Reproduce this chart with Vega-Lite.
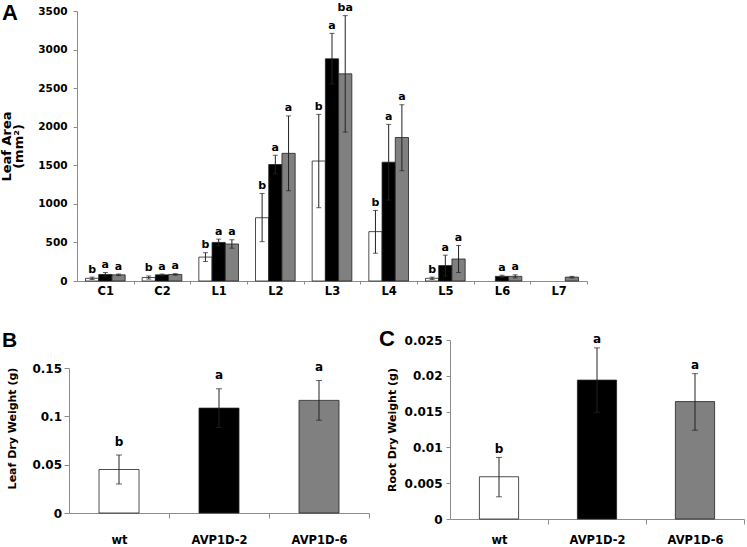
{
  "$schema": "https://vega.github.io/schema/vega-lite/v6.json",
  "padding": {"left": 0, "top": 2, "right": 0, "bottom": 0},
  "background": "white",
  "config": {
    "view": {"stroke": null},
    "axis": {"domainColor": "#8c8c8c", "tickColor": "#8c8c8c", "labelFont": "DejaVu Sans", "labelFontWeight": "bold", "labelColor": "#000", "titleFont": "DejaVu Sans", "titleFontWeight": "bold", "titleColor": "#000", "grid": false, "labelOverlap": false},
    "title": {"font": "Liberation Sans", "fontWeight": "bold", "color": "#000"}
  },
  "datasets": {
    "leaf": [
      {"cat": "C1", "geno": "wt", "mean": 35, "lo": 20, "hi": 50, "lab": "b"},
      {"cat": "C1", "geno": "AVP1D-2", "mean": 85, "lo": 60, "hi": 110, "lab": "a"},
      {"cat": "C1", "geno": "AVP1D-6", "mean": 80, "lo": 70, "hi": 90, "lab": "a"},
      {"cat": "C2", "geno": "wt", "mean": 45, "lo": 25, "hi": 65, "lab": "b"},
      {"cat": "C2", "geno": "AVP1D-2", "mean": 80, "lo": 70, "hi": 90, "lab": "a"},
      {"cat": "C2", "geno": "AVP1D-6", "mean": 85, "lo": 75, "hi": 95, "lab": "a"},
      {"cat": "L1", "geno": "wt", "mean": 310, "lo": 253, "hi": 367, "lab": "b"},
      {"cat": "L1", "geno": "AVP1D-2", "mean": 500, "lo": 457, "hi": 543, "lab": "a"},
      {"cat": "L1", "geno": "AVP1D-6", "mean": 480, "lo": 425, "hi": 535, "lab": "a"},
      {"cat": "L2", "geno": "wt", "mean": 820, "lo": 510, "hi": 1135, "lab": "b"},
      {"cat": "L2", "geno": "AVP1D-2", "mean": 1510, "lo": 1390, "hi": 1630, "lab": "a"},
      {"cat": "L2", "geno": "AVP1D-6", "mean": 1655, "lo": 1170, "hi": 2140, "lab": "a"},
      {"cat": "L3", "geno": "wt", "mean": 1555, "lo": 950, "hi": 2160, "lab": "b"},
      {"cat": "L3", "geno": "AVP1D-2", "mean": 2880, "lo": 2555, "hi": 3210, "lab": "a"},
      {"cat": "L3", "geno": "AVP1D-6", "mean": 2685, "lo": 1930, "hi": 3440, "lab": "ba"},
      {"cat": "L4", "geno": "wt", "mean": 640, "lo": 360, "hi": 915, "lab": "b"},
      {"cat": "L4", "geno": "AVP1D-2", "mean": 1540, "lo": 1050, "hi": 2030, "lab": "a"},
      {"cat": "L4", "geno": "AVP1D-6", "mean": 1860, "lo": 1430, "hi": 2285, "lab": "a"},
      {"cat": "L5", "geno": "wt", "mean": 35, "lo": 20, "hi": 50, "lab": "b"},
      {"cat": "L5", "geno": "AVP1D-2", "mean": 200, "lo": 65, "hi": 335, "lab": "a"},
      {"cat": "L5", "geno": "AVP1D-6", "mean": 285, "lo": 110, "hi": 460, "lab": "a"},
      {"cat": "L6", "geno": "AVP1D-2", "mean": 60, "lo": 45, "hi": 75, "lab": "a"},
      {"cat": "L6", "geno": "AVP1D-6", "mean": 60, "lo": 40, "hi": 80, "lab": "a"},
      {"cat": "L7", "geno": "AVP1D-6", "mean": 50, "lo": 40, "hi": 60, "lab": ""}
    ],
    "leafdw": [
      {"geno": "wt", "mean": 0.045, "lo": 0.030, "hi": 0.060, "lab": "b"},
      {"geno": "AVP1D-2", "mean": 0.1085, "lo": 0.0885, "hi": 0.1285, "lab": "a"},
      {"geno": "AVP1D-6", "mean": 0.1165, "lo": 0.096, "hi": 0.137, "lab": "a"}
    ],
    "rootdw": [
      {"geno": "wt", "mean": 0.0059, "lo": 0.0031, "hi": 0.0086, "lab": "b"},
      {"geno": "AVP1D-2", "mean": 0.0194, "lo": 0.0149, "hi": 0.0239, "lab": "a"},
      {"geno": "AVP1D-6", "mean": 0.0164, "lo": 0.0124, "hi": 0.0203, "lab": "a"}
    ]
  },
  "bounds": "flush",
  "spacing": 59,
  "vconcat": [
    {
      "width": 518,
      "height": 270,
      "title": {"text": "A", "anchor": "start", "frame": "group", "fontSize": 22, "offset": 0, "dx": -67, "dy": 40, "baseline": "alphabetic"},
      "data": {"name": "leaf"},
      "encoding": {
        "x": {"field": "cat", "type": "nominal", "sort": ["C1", "C2", "L1", "L2", "L3", "L4", "L5", "L6", "L7"],
          "scale": {"range": [8, 518], "paddingInner": 0.3, "paddingOuter": 0.15},
          "axis": {"title": null, "labelAngle": 0, "labelFontSize": 11.5, "tickSize": 3, "labelPadding": 1, "bandPosition": 1, "tickOffset": 8.5, "labelOffset": -8.5}},
        "xOffset": {"field": "geno", "type": "nominal", "scale": {"domain": ["wt", "AVP1D-2", "AVP1D-6"], "paddingInner": 0, "paddingOuter": 0}}
      },
      "layer": [
        {
          "mark": {"type": "bar", "stroke": "#222", "strokeWidth": 0.8},
          "encoding": {
            "y": {"field": "mean", "type": "quantitative", "scale": {"domain": [0, 3500], "nice": false},
              "axis": {"values": [0, 500, 1000, 1500, 2000, 2500, 3000, 3500], "format": "d", "offset": -8, "labelFontSize": 10.5, "tickSize": 4, "labelPadding": 6, "title": ["Leaf Area", "(mm²)"], "titleFontSize": 13, "titleLineHeight": 12, "titlePadding": 12}},
            "color": {"field": "geno", "type": "nominal", "scale": {"domain": ["wt", "AVP1D-2", "AVP1D-6"], "range": ["#ffffff", "#000000", "#808080"]}, "legend": null}
          }
        },
        {
          "mark": {"type": "rule", "color": "#222", "strokeWidth": 1},
          "encoding": {"y": {"field": "lo", "type": "quantitative",
              "axis": {"values": [0, 500, 1000, 1500, 2000, 2500, 3000, 3500], "format": "d", "offset": -8, "labelFontSize": 10.5, "tickSize": 4, "labelPadding": 6, "title": ["Leaf Area", "(mm²)"], "titleFontSize": 13, "titleLineHeight": 12, "titlePadding": 12}}, "y2": {"field": "hi"}}
        },
        {
          "mark": {"type": "tick", "orient": "horizontal", "size": 5, "thickness": 1, "color": "#222"},
          "encoding": {"y": {"field": "hi", "type": "quantitative",
              "axis": {"values": [0, 500, 1000, 1500, 2000, 2500, 3000, 3500], "format": "d", "offset": -8, "labelFontSize": 10.5, "tickSize": 4, "labelPadding": 6, "title": ["Leaf Area", "(mm²)"], "titleFontSize": 13, "titleLineHeight": 12, "titlePadding": 12}}}
        },
        {
          "mark": {"type": "tick", "orient": "horizontal", "size": 5, "thickness": 1, "color": "#222"},
          "encoding": {"y": {"field": "lo", "type": "quantitative",
              "axis": {"values": [0, 500, 1000, 1500, 2000, 2500, 3000, 3500], "format": "d", "offset": -8, "labelFontSize": 10.5, "tickSize": 4, "labelPadding": 6, "title": ["Leaf Area", "(mm²)"], "titleFontSize": 13, "titleLineHeight": 12, "titlePadding": 12}}}
        },
        {
          "mark": {"type": "text", "font": "DejaVu Sans", "fontWeight": "bold", "fontSize": 11, "baseline": "alphabetic", "dy": -4.5, "color": "#000"},
          "encoding": {"y": {"field": "hi", "type": "quantitative",
              "axis": {"values": [0, 500, 1000, 1500, 2000, 2500, 3000, 3500], "format": "d", "offset": -8, "labelFontSize": 10.5, "tickSize": 4, "labelPadding": 6, "title": ["Leaf Area", "(mm²)"], "titleFontSize": 13, "titleLineHeight": 12, "titlePadding": 12}}, "text": {"field": "lab"}}
        }
      ]
    },
    {
      "bounds": "flush",
      "spacing": 81,
      "hconcat": [
        {
          "width": 300,
          "height": 179,
          "title": {"text": "B", "anchor": "start", "frame": "group", "fontSize": 21, "offset": 0, "dx": -67, "dy": 28, "baseline": "alphabetic"},
          "data": {"name": "leafdw"},
          "encoding": {
            "x": {"field": "geno", "type": "nominal", "sort": ["wt", "AVP1D-2", "AVP1D-6"],
              "scale": {"paddingInner": 0.6, "paddingOuter": 0.3},
              "axis": {"title": null, "labelAngle": 0, "labelFontSize": 11.5, "tickSize": 5, "labelPadding": 16, "offset": -6, "bandPosition": 1, "tickOffset": 30, "labelOffset": -30}}
          },
          "layer": [
            {
              "mark": {"type": "bar", "stroke": "#222", "strokeWidth": 0.8},
              "encoding": {
                "y": {"field": "mean", "type": "quantitative", "scale": {"domain": [0, 0.15], "nice": false, "range": [173, 28]},
                  "axis": {"values": [0, 0.05, 0.1, 0.15], "format": ".3~g", "labelFontSize": 12, "tickSize": 5, "labelPadding": 2.5, "title": "Leaf Dry Weight  (g)", "titleFontSize": 11, "titlePadding": 14, "titleY": 88}},
                "color": {"field": "geno", "type": "nominal", "scale": {"domain": ["wt", "AVP1D-2", "AVP1D-6"], "range": ["#ffffff", "#000000", "#808080"]}, "legend": null}
              }
            },
            {
              "mark": {"type": "rule", "color": "#222", "strokeWidth": 1},
              "encoding": {"y": {"field": "lo", "type": "quantitative",
                  "axis": {"values": [0, 0.05, 0.1, 0.15], "format": ".3~g", "labelFontSize": 12, "tickSize": 5, "labelPadding": 2.5, "title": "Leaf Dry Weight  (g)", "titleFontSize": 11, "titlePadding": 14, "titleY": 88}}, "y2": {"field": "hi"}}
            },
            {
              "mark": {"type": "tick", "orient": "horizontal", "size": 6, "thickness": 1, "color": "#222"},
              "encoding": {"y": {"field": "hi", "type": "quantitative",
                  "axis": {"values": [0, 0.05, 0.1, 0.15], "format": ".3~g", "labelFontSize": 12, "tickSize": 5, "labelPadding": 2.5, "title": "Leaf Dry Weight  (g)", "titleFontSize": 11, "titlePadding": 14, "titleY": 88}}}
            },
            {
              "mark": {"type": "tick", "orient": "horizontal", "size": 6, "thickness": 1, "color": "#222"},
              "encoding": {"y": {"field": "lo", "type": "quantitative",
                  "axis": {"values": [0, 0.05, 0.1, 0.15], "format": ".3~g", "labelFontSize": 12, "tickSize": 5, "labelPadding": 2.5, "title": "Leaf Dry Weight  (g)", "titleFontSize": 11, "titlePadding": 14, "titleY": 88}}}
            },
            {
              "mark": {"type": "text", "font": "DejaVu Sans", "fontWeight": "bold", "fontSize": 12, "baseline": "alphabetic", "dy": -9.5, "color": "#000"},
              "encoding": {"y": {"field": "hi", "type": "quantitative",
                  "axis": {"values": [0, 0.05, 0.1, 0.15], "format": ".3~g", "labelFontSize": 12, "tickSize": 5, "labelPadding": 2.5, "title": "Leaf Dry Weight  (g)", "titleFontSize": 11, "titlePadding": 14, "titleY": 88}}, "text": {"field": "lab"}}
            }
          ]
        },
        {
          "width": 294,
          "height": 179,
          "title": {"text": "C", "anchor": "start", "frame": "group", "fontSize": 22, "offset": 0, "dx": -71, "dy": 35, "baseline": "alphabetic"},
          "data": {"name": "rootdw"},
          "encoding": {
            "x": {"field": "geno", "type": "nominal", "sort": ["wt", "AVP1D-2", "AVP1D-6"],
              "scale": {"paddingInner": 0.6, "paddingOuter": 0.3},
              "axis": {"title": null, "labelAngle": 0, "labelFontSize": 11.5, "tickSize": 5, "labelPadding": 10, "bandPosition": 1, "tickOffset": 29.4, "labelOffset": -29.4}}
          },
          "layer": [
            {
              "mark": {"type": "bar", "stroke": "#222", "strokeWidth": 0.8},
              "encoding": {
                "y": {"field": "mean", "type": "quantitative", "scale": {"domain": [0, 0.025], "nice": false},
                  "axis": {"values": [0, 0.005, 0.01, 0.015, 0.02, 0.025], "format": ".3~g", "labelFontSize": 12, "tickSize": 4, "labelPadding": 4, "title": "Root Dry Weight  (g)", "titleFontSize": 11, "titlePadding": 6.5}},
                "color": {"field": "geno", "type": "nominal", "scale": {"domain": ["wt", "AVP1D-2", "AVP1D-6"], "range": ["#ffffff", "#000000", "#808080"]}, "legend": null}
              }
            },
            {
              "mark": {"type": "rule", "color": "#222", "strokeWidth": 1},
              "encoding": {"y": {"field": "lo", "type": "quantitative",
                  "axis": {"values": [0, 0.005, 0.01, 0.015, 0.02, 0.025], "format": ".3~g", "labelFontSize": 12, "tickSize": 4, "labelPadding": 4, "title": "Root Dry Weight  (g)", "titleFontSize": 11, "titlePadding": 6.5}}, "y2": {"field": "hi"}}
            },
            {
              "mark": {"type": "tick", "orient": "horizontal", "size": 6, "thickness": 1, "color": "#222"},
              "encoding": {"y": {"field": "hi", "type": "quantitative",
                  "axis": {"values": [0, 0.005, 0.01, 0.015, 0.02, 0.025], "format": ".3~g", "labelFontSize": 12, "tickSize": 4, "labelPadding": 4, "title": "Root Dry Weight  (g)", "titleFontSize": 11, "titlePadding": 6.5}}}
            },
            {
              "mark": {"type": "tick", "orient": "horizontal", "size": 6, "thickness": 1, "color": "#222"},
              "encoding": {"y": {"field": "lo", "type": "quantitative",
                  "axis": {"values": [0, 0.005, 0.01, 0.015, 0.02, 0.025], "format": ".3~g", "labelFontSize": 12, "tickSize": 4, "labelPadding": 4, "title": "Root Dry Weight  (g)", "titleFontSize": 11, "titlePadding": 6.5}}}
            },
            {
              "mark": {"type": "text", "font": "DejaVu Sans", "fontWeight": "bold", "fontSize": 12, "baseline": "alphabetic", "dy": -4.5, "color": "#000"},
              "encoding": {"y": {"field": "hi", "type": "quantitative",
                  "axis": {"values": [0, 0.005, 0.01, 0.015, 0.02, 0.025], "format": ".3~g", "labelFontSize": 12, "tickSize": 4, "labelPadding": 4, "title": "Root Dry Weight  (g)", "titleFontSize": 11, "titlePadding": 6.5}}, "text": {"field": "lab"}}
            }
          ]
        }
      ]
    }
  ]
}
